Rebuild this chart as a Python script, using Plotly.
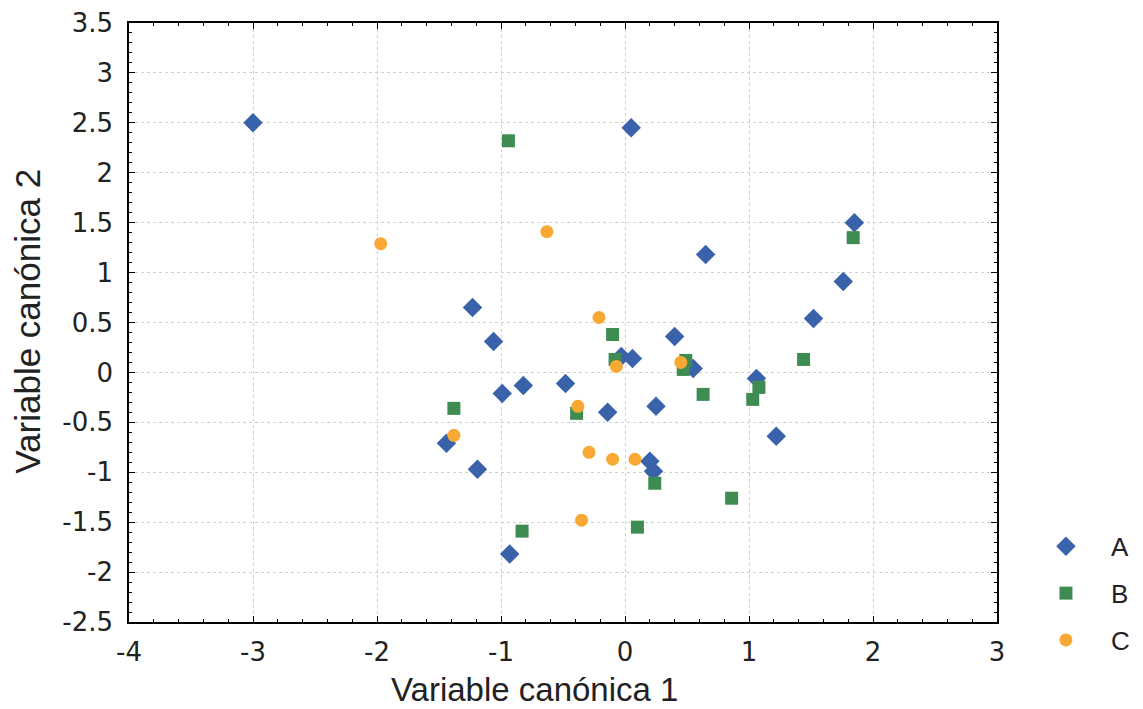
import plotly.graph_objects as go

# Group A (blue diamonds)
a_x = [-3.00, 0.05, 1.85, 0.65, 1.76, 1.52, -1.23, -1.06, -0.99, -0.82, -0.48,
       -1.44, -1.19, -0.93, 0.40, -0.03, 0.06, 0.55, 1.06, 0.25, -0.14, 1.22,
       0.20, 0.23]
a_y = [2.50, 2.45, 1.50, 1.18, 0.91, 0.54, 0.65, 0.31, -0.21, -0.13, -0.11,
       -0.71, -0.97, -1.82, 0.36, 0.16, 0.14, 0.04, -0.06, -0.34, -0.40, -0.64,
       -0.89, -0.99]

# Group B (green squares)
b_x = [-0.94, 1.84, -1.38, -0.83, -0.10, -0.08, 0.49, 0.47, 1.44, 1.08, 1.03,
       0.63, -0.39, 0.24, 0.86, 0.10]
b_y = [2.32, 1.35, -0.36, -1.59, 0.38, 0.13, 0.12, 0.03, 0.13, -0.15, -0.27,
       -0.22, -0.41, -1.11, -1.26, -1.55]

# Group C (orange circles)
c_x = [-1.97, -0.63, -0.21, -0.07, 0.45, -0.38, -1.38, -0.29, -0.10, 0.08, -0.35]
c_y = [1.29, 1.41, 0.55, 0.06, 0.10, -0.34, -0.63, -0.80, -0.87, -0.87, -1.48]

# Tick labels
x_ticks = [-4, -3, -2, -1, 0, 1, 2, 3]
x_ticktext = ["-4", "-3", "-2", "-1", "0", "1", "2", "3"]
y_ticks = [-2.5, -2, -1.5, -1, -0.5, 0, 0.5, 1, 1.5, 2, 2.5, 3, 3.5]
y_ticktext = ["-2.5", "-2", "-1.5", "-1", "-0.5", "0", "0.5", "1", "1.5", "2",
              "2.5", "3", "3.5"]

x_title = "Variable canónica 1"
y_title = "Variable canónica 2"

fig = go.Figure()
fig.add_trace(go.Scatter(x=a_x, y=a_y, mode="markers", name="A", legendgroup="A",
                         marker=dict(symbol="diamond", size=15, color="#3A62AB")))
fig.add_trace(go.Scatter(x=b_x, y=b_y, mode="markers", name="B", legendgroup="B",
                         marker=dict(symbol="square", size=13, color="#3E8C52")))
fig.add_trace(go.Scatter(x=c_x, y=c_y, mode="markers", name="C", legendgroup="C",
                         marker=dict(symbol="circle", size=13, color="#F8A933")))

axis_common = dict(
    showline=True, linecolor="black", linewidth=1.5, mirror="allticks",
    ticks="inside", ticklen=6, tickcolor="black",
    showgrid=True, gridcolor="#D0D0D0", griddash="dot", gridwidth=1,
    zeroline=False,
    tickfont=dict(family="DejaVu Sans", size=26, color="#222222"),
)

fig.update_xaxes(range=[-4, 3], tickmode="array", tickvals=x_ticks, ticktext=x_ticktext,
                 ticklabelstandoff=6,
                 minor=dict(dtick=0.2, tick0=0, ticks="inside", ticklen=3,
                            tickcolor="black", showgrid=False),
                 **axis_common)
fig.update_yaxes(range=[-2.5, 3.5], tickmode="array", tickvals=y_ticks, ticktext=y_ticktext,
                 ticklabelstandoff=9,
                 minor=dict(dtick=0.1, tick0=0, ticks="inside", ticklen=3,
                            tickcolor="black", showgrid=False),
                 **axis_common)

fig.add_annotation(text=x_title, xref="paper", yref="paper", x=0.4666, y=-0.113,
                   xanchor="center", yanchor="middle", showarrow=False,
                   font=dict(family="Liberation Sans", size=33, color="#222222"))
fig.add_annotation(text=y_title, xref="paper", yref="paper", x=-0.1164, y=0.503,
                   xanchor="center", yanchor="middle", showarrow=False, textangle=-90,
                   font=dict(family="Liberation Sans", size=35, color="#222222"))

fig.update_layout(
    width=1135, height=701,
    margin=dict(l=121, r=146, t=15, b=87, autoexpand=False),
    plot_bgcolor="white", paper_bgcolor="white",
    legend=dict(x=1.0276, y=-0.07, xanchor="left", yanchor="bottom",
                font=dict(family="Liberation Sans", size=26, color="#222222"),
                tracegroupgap=10, itemwidth=80, bgcolor="rgba(0,0,0,0)"),
    showlegend=True,
)

fig.write_html("out.html")
